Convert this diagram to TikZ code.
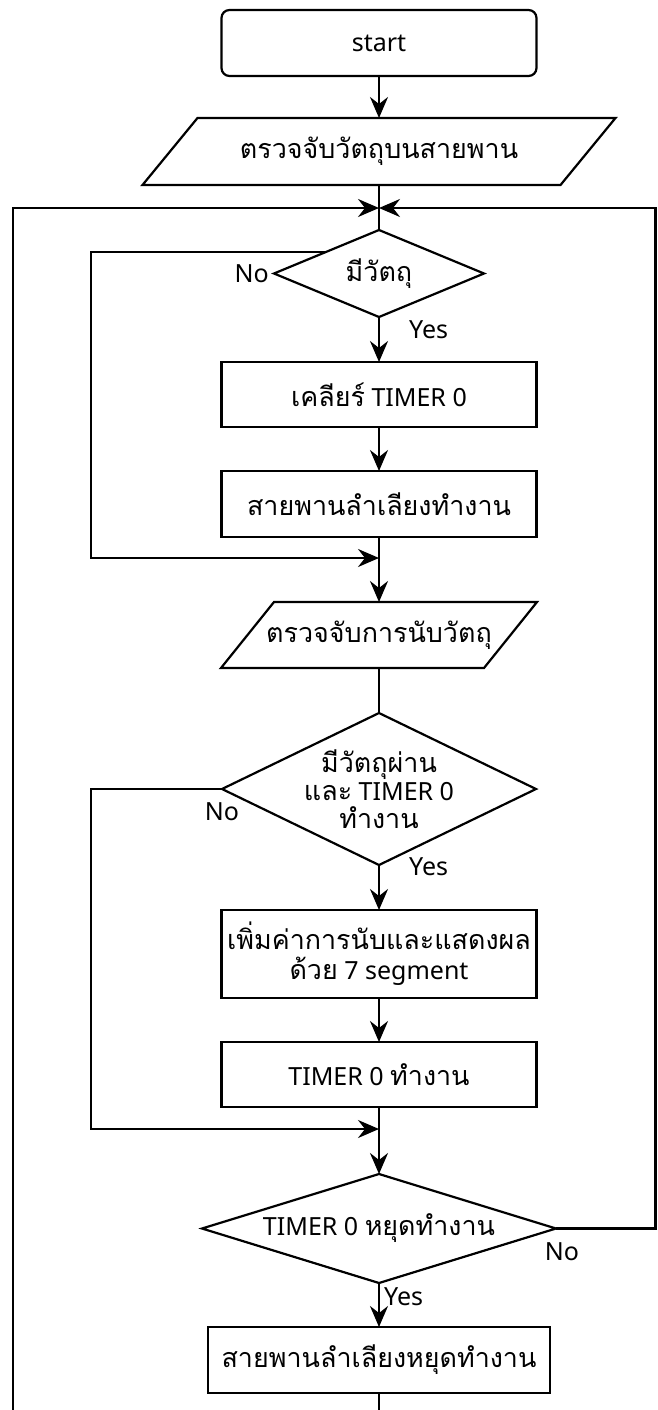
\documentclass[tikz,border=0pt]{standalone}
\usepackage{fontspec}
\setmainfont{Noto Sans}
\newfontfamily\thai[Script=Thai,Scale=1.075]{Loma}
\usetikzlibrary{arrows.meta,calc}
\tikzset{
  base/.style={inner sep=0pt, outer sep=0pt, align=center, font=\fontsize{25}{28}\selectfont},
  boxnode/.style={base, draw, line width=2.2pt, minimum width=315pt, minimum height=65pt},
  ghost/.style={base},
  shapeline/.style={draw, line width=2.2pt, line join=miter},
  conn/.style={line width=2.2pt},
  arr/.style={conn, -{Stealth[length=21pt,width=18pt,inset=7pt]}},
  lbl/.style={font=\fontsize{25}{28}\selectfont, inner sep=0pt},
}
\begin{document}
\begin{tikzpicture}[x=1pt,y=-1pt]
\useasboundingbox[fill=white] (0,0) rectangle (657,1410);

% start
\node[boxnode, rounded corners=8pt, minimum height=66pt] (start) at (379,43) {start};

% input 1
\node[ghost, minimum width=418pt, minimum height=67pt] (in1) at (379,151.5) {\thai ตรวจจับวัตถุบนสายพาน};
\draw[shapeline] ([xshift=27.5pt]in1.north west) -- ([xshift=27.5pt]in1.north east) -- ([xshift=-27.5pt]in1.south east) -- ([xshift=-27.5pt]in1.south west) -- cycle;

\coordinate (J1) at (379,208);

% decision 1
\node[ghost, minimum width=210pt, minimum height=87pt] (d1) at (379,273.5) {\thai มีวัตถุ};
\draw[shapeline] (d1.north) -- (d1.east) -- (d1.south) -- (d1.west) -- cycle;

\node[boxnode] (b1) at (379,394.5) {{\thai เคลียร์} TIMER 0};
\node[boxnode, minimum height=66pt] (b2) at (379,504) {\thai สายพานลำเลียงทำงาน};

\coordinate (M1) at (379,558);

% input 2
\node[ghost, minimum width=263pt, minimum height=66pt] (in2) at (379,635) {\thai ตรวจจับการนับวัตถุ};
\draw[shapeline] ([xshift=26.5pt]in2.north west) -- ([xshift=26.5pt]in2.north east) -- ([xshift=-26.5pt]in2.south east) -- ([xshift=-26.5pt]in2.south west) -- cycle;

% decision 2
\node[ghost, minimum width=314pt, minimum height=152pt] (d2) at (379,789) {{\thai มีวัตถุผ่าน}\\{\thai และ} TIMER 0\\{\thai ทำงาน}};
\draw[shapeline] (d2.north) -- (d2.east) -- (d2.south) -- (d2.west) -- cycle;

\node[boxnode, minimum height=88pt, font=\fontsize{25}{30}\selectfont] (b3) at (379,954) {{\thai เพิ่มค่าการนับและแสดงผล}\\{\thai ด้วย} 7 segment};
\node[boxnode] (b4) at (379,1074.5) {TIMER 0 {\thai ทำงาน}};

\coordinate (M2) at (379,1129);

% decision 3
\node[ghost, minimum width=354pt, minimum height=109pt] (d3) at (379,1228.5) {TIMER 0 {\thai หยุดทำงาน}};
\draw[shapeline] (d3.north) -- (d3.east) -- (d3.south) -- (d3.west) -- cycle;

\node[boxnode, minimum width=342pt, minimum height=66pt] (b5) at (379,1360) {\thai สายพานลำเลียงหยุดทำงาน};

% helper coordinates
\coordinate (B1) at (379,1410);
\coordinate (B2) at (13,1410);
\coordinate (R1) at (655.5,208);
\coordinate (L1) at (91,558);
\coordinate (L2) at (91,1129);
\coordinate (L1a) at ($(d1.west)!0.5!(d1.north)$);

% connectors
\draw[arr] (start.south) -- (in1.north);
\draw[conn] (in1.south) -- (d1.north);
\draw[arr] (d1.south) -- (b1.north);
\draw[arr] (b1.south) -- (b2.north);
\draw[arr] (b2.south) -- (in2.north);
\draw[arr] (L1a) -| (L1) -- (M1);
\draw[conn] (in2.south) -- (d2.north);
\draw[arr] (d2.south) -- (b3.north);
\draw[arr] (b3.south) -- (b4.north);
\draw[arr] (b4.south) -- (d3.north);
\draw[arr] (d2.west) -| (L2) -- (M2);
\draw[arr] (d3.south) -- (b5.north);
\draw[conn] (b5.south) -- (B1);
\draw[arr] (d3.east) -| (R1) -- (J1);
\draw[arr] (B2) |- (J1);

% labels
\node[lbl, anchor=east] (no1) at (269,274) {No};
\node[lbl, anchor=west] (yes1) at (409,330) {Yes};
\node[lbl] (no2) at (222,812) {No};
\node[lbl, anchor=west] (yes2) at (409,867) {Yes};
\node[lbl] (no3) at (562,1252) {No};
\node[lbl, anchor=west] (yes3) at (384,1297) {Yes};
\end{tikzpicture}
\end{document}
